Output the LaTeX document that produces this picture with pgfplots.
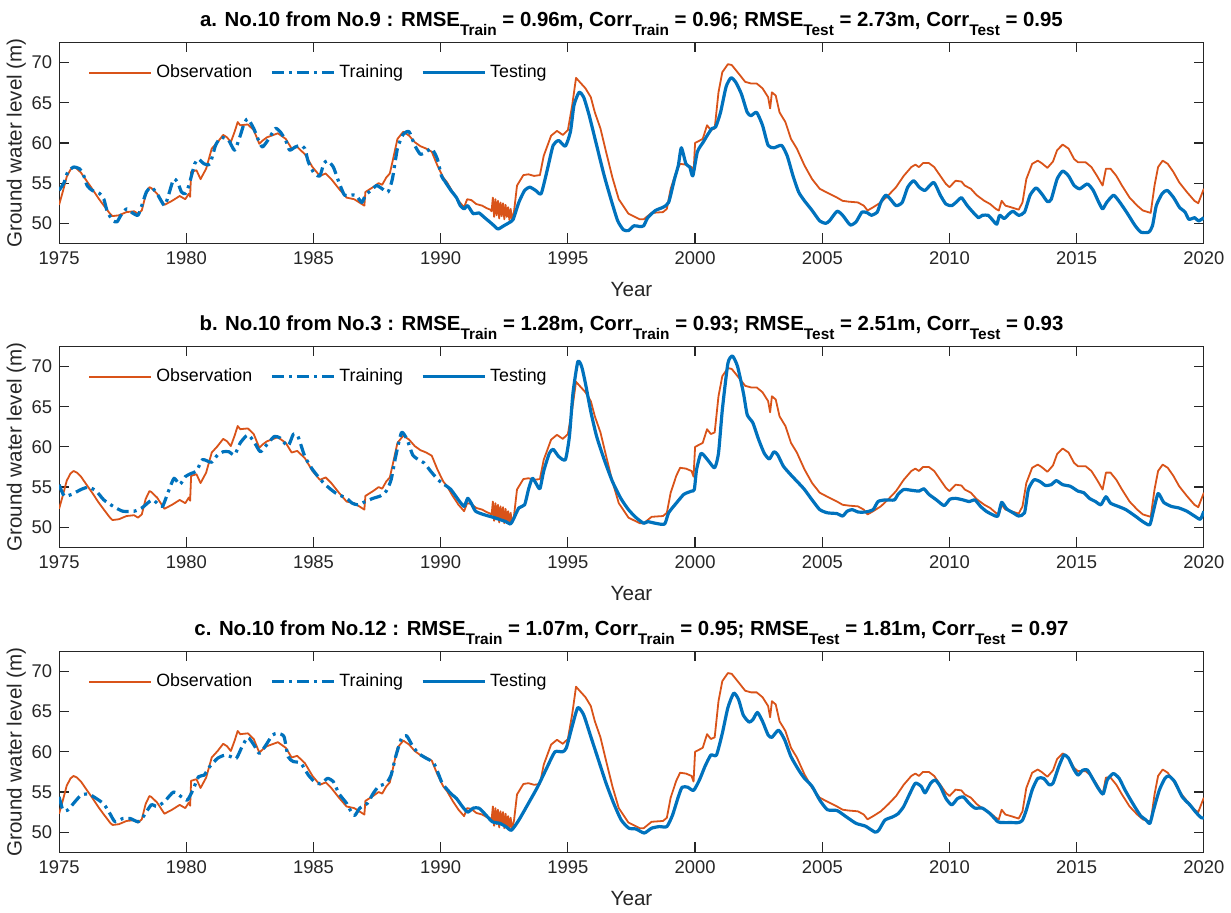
\documentclass[border=0pt]{standalone}
\usepackage{fontspec}
\setmainfont{Liberation Sans}
\usepackage{pgfplots}
\pgfplotsset{compat=1.18}
\usepackage{pgfplotstable}
\definecolor{mOrange}{rgb}{0.85,0.325,0.098}
\definecolor{mBlue}{rgb}{0,0.447,0.741}
\definecolor{axgray}{rgb}{0.15,0.15,0.15}
\newcommand{\sub}[1]{\raisebox{-4.3pt}{\fontsize{7.7}{9}\selectfont\bfseries #1}}

\pgfplotstableread{
x y
1975.0 52.3
1975.15 54.0
1975.3 55.8
1975.45 56.7
1975.57 57.0
1975.7 56.8
1975.86 56.3
1976.1 55.2
1976.3 54.3
1976.55 53.1
1976.76 52.2
1977.0 51.2
1977.1 50.9
1977.35 51.0
1977.65 51.4
1977.95 51.5
1978.1 51.2
1978.25 51.6
1978.4 53.5
1978.55 54.5
1978.62 54.4
1978.85 53.7
1979.14 52.3
1979.44 52.8
1979.74 53.4
1979.96 53.0
1980.1 53.7
1980.15 53.3
1980.19 56.4
1980.4 56.6
1980.56 55.5
1980.78 56.8
1981.0 59.3
1981.23 60.1
1981.45 61.0
1981.6 60.7
1981.75 60.1
1981.9 61.4
1982.02 62.6
1982.12 62.2
1982.42 62.3
1982.65 61.6
1982.87 59.9
1983.0 60.3
1983.17 60.7
1983.6 61.2
1983.91 60.5
1984.14 59.3
1984.36 59.5
1984.66 58.6
1984.96 57.0
1985.25 55.9
1985.48 56.2
1985.7 55.5
1986.0 54.3
1986.3 53.2
1986.6 53.0
1986.9 52.4
1987.0 52.2
1987.04 53.9
1987.34 54.5
1987.56 55.0
1987.7 54.8
1987.86 55.7
1988.0 56.2
1988.1 57.6
1988.3 60.5
1988.53 61.4
1988.76 60.9
1988.98 60.1
1989.2 59.6
1989.43 59.3
1989.65 58.9
1989.87 57.2
1990.1 55.7
1990.25 55.1
1990.47 53.9
1990.7 52.8
1990.92 52.0
1991.04 53.0
1991.2 52.9
1991.4 52.4
1991.63 52.2
1991.8 51.9
1991.95 51.7
1992.0 51.5
1992.05 53.2
1992.1 50.8
1992.15 53.0
1992.2 51.0
1992.25 52.8
1992.3 50.6
1992.35 52.6
1992.4 50.9
1992.45 52.5
1992.5 50.5
1992.55 52.3
1992.6 50.8
1992.65 52.0
1992.7 50.4
1992.75 51.8
1992.8 50.5
1992.88 51.4
1993.0 54.7
1993.25 56.0
1993.45 56.1
1993.67 55.9
1993.9 56.0
1994.05 58.4
1994.34 60.9
1994.57 61.5
1994.8 61.0
1995.0 61.6
1995.17 64.7
1995.32 68.1
1995.46 67.6
1995.69 66.8
1995.9 65.7
1996.06 63.8
1996.28 61.8
1996.5 58.9
1996.75 55.7
1997.0 53.0
1997.38 51.2
1997.83 50.5
1997.98 50.5
1998.29 51.3
1998.74 51.4
1998.89 51.8
1999.04 54.3
1999.26 56.4
1999.41 57.4
1999.64 57.3
1999.86 57.0
1999.94 56.3
2000.0 60.0
2000.3 60.5
2000.47 62.2
2000.62 61.6
2000.77 61.8
2000.92 66.3
2001.07 68.8
2001.29 69.8
2001.44 69.7
2001.67 68.8
2001.97 67.6
2002.2 67.4
2002.42 67.4
2002.65 66.8
2002.87 65.7
2002.95 64.3
2003.02 66.3
2003.17 65.9
2003.32 63.8
2003.55 62.6
2003.77 60.5
2004.0 59.3
2004.3 57.2
2004.6 55.5
2004.9 54.3
2005.2 53.8
2005.58 53.2
2005.8 52.8
2006.03 52.7
2006.4 52.6
2006.63 52.2
2006.78 51.6
2007.0 52.0
2007.3 52.6
2007.6 53.5
2007.9 54.5
2008.2 55.9
2008.5 57.0
2008.66 57.3
2008.8 57.0
2008.96 57.5
2009.19 57.5
2009.4 57.0
2009.64 55.9
2009.86 54.9
2010.0 54.5
2010.24 55.3
2010.47 55.2
2010.6 54.7
2010.84 54.3
2011.07 53.5
2011.37 52.8
2011.6 52.4
2011.82 51.8
2011.94 51.6
2012.05 52.8
2012.2 52.2
2012.42 52.0
2012.72 51.7
2012.87 52.6
2013.02 55.5
2013.25 57.4
2013.47 57.8
2013.62 57.5
2013.85 56.9
2014.07 57.7
2014.23 59.1
2014.45 59.8
2014.68 59.3
2014.9 58.0
2015.05 57.6
2015.35 57.6
2015.58 57.0
2015.8 55.9
2016.02 54.7
2016.15 56.8
2016.33 56.8
2016.56 55.9
2016.78 54.7
2017.08 53.2
2017.38 52.2
2017.6 51.6
2017.91 51.3
2018.06 54.7
2018.2 57.0
2018.38 57.8
2018.58 57.4
2018.8 56.4
2019.03 55.1
2019.33 53.9
2019.63 52.8
2019.78 52.5
2019.9 53.5
2020.0 54.3
}\obs

\pgfplotstableread{
x y
1975.0 54.1
1975.2 55.1
1975.34 56.4
1975.57 57.0
1975.8 56.8
1975.94 56.2
1976.1 54.7
1976.3 54.1
1976.6 53.7
1976.76 53.0
1976.9 51.4
1977.13 50.3
1977.28 50.2
1977.43 51.0
1977.65 51.8
1977.88 51.3
1978.1 51.0
1978.25 52.2
1978.43 53.9
1978.62 54.5
1978.85 53.7
1979.14 52.2
1979.3 53.5
1979.5 55.5
1979.66 55.1
1979.81 53.9
1979.96 53.7
1980.1 54.7
1980.33 57.4
1980.48 58.0
1980.7 57.4
1980.93 57.4
1981.15 59.7
1981.37 60.7
1981.67 60.3
1981.9 59.1
1982.12 60.9
1982.27 62.4
1982.42 63.0
1982.65 61.8
1982.87 60.1
1983.0 59.5
1983.24 60.5
1983.5 61.8
1983.69 61.4
1983.91 60.3
1984.06 59.1
1984.28 59.5
1984.5 59.7
1984.66 59.3
1984.8 57.6
1985.03 56.2
1985.25 55.9
1985.4 57.4
1985.55 57.8
1985.78 57.0
1986.0 55.1
1986.22 53.5
1986.45 53.5
1986.67 53.5
1986.9 52.6
1987.04 53.5
1987.26 54.1
1987.48 54.7
1987.7 54.3
1987.93 53.9
1988.1 55.5
1988.3 59.3
1988.53 61.1
1988.76 61.4
1988.98 59.7
1989.2 58.6
1989.43 58.9
1989.65 59.3
1989.87 58.0
1990.03 55.9
1990.15 55.3
}\trainA

\pgfplotstableread{
x y
1990.15 55.3
1990.4 54.1
1990.62 53.2
1990.77 52.2
1990.92 51.8
1991.06 52.2
1991.28 51.2
1991.5 51.3
1991.73 50.7
1992.03 49.9
1992.25 49.3
1992.48 49.7
1992.7 50.1
1992.85 50.5
1993.07 52.6
1993.3 54.1
1993.5 54.5
1993.73 54.1
1993.95 53.7
1994.2 56.8
1994.42 59.7
1994.64 60.3
1994.9 59.6
1995.1 61.4
1995.24 64.7
1995.44 66.3
1995.62 65.7
1995.84 63.4
1996.13 59.7
1996.43 55.9
1996.73 52.6
1996.96 50.3
1997.18 49.2
1997.38 49.1
1997.6 49.7
1997.83 49.6
1997.98 49.7
1998.14 50.7
1998.44 51.6
1998.74 52.0
1998.96 52.6
1999.19 55.5
1999.34 57.2
1999.46 59.4
1999.64 57.4
1999.79 57.0
1999.91 55.9
2000.09 58.9
2000.32 60.1
2000.47 60.9
2000.66 61.8
2000.81 62.0
2001.0 63.8
2001.22 67.0
2001.41 68.1
2001.59 67.6
2001.82 66.1
2002.05 63.8
2002.2 63.4
2002.42 63.8
2002.65 62.2
2002.87 59.7
2003.1 59.4
2003.4 59.7
2003.62 58.4
2003.85 55.9
2004.07 53.9
2004.3 52.8
2004.6 51.6
2004.9 50.3
2005.13 50.0
2005.28 50.3
2005.58 51.5
2005.8 51.0
2006.1 49.8
2006.33 50.2
2006.56 51.4
2006.78 51.3
2006.93 51.0
2007.16 51.4
2007.3 52.6
2007.49 53.5
2007.68 53.0
2007.9 52.2
2008.14 52.6
2008.36 54.5
2008.59 55.3
2008.81 54.5
2009.04 54.1
2009.38 55.1
2009.64 53.5
2009.86 52.4
2010.09 52.2
2010.32 52.8
2010.47 53.2
2010.7 52.2
2010.92 51.4
2011.14 50.7
2011.29 51.0
2011.52 51.0
2011.67 50.5
2011.86 49.9
2011.97 51.0
2012.15 50.6
2012.35 51.2
2012.5 51.5
2012.72 51.0
2012.95 51.4
2013.17 53.5
2013.4 54.4
2013.62 53.7
2013.85 52.7
2014.0 53.0
2014.23 55.5
2014.45 56.5
2014.68 55.9
2014.9 54.7
2015.12 54.3
2015.42 54.9
2015.65 54.1
2015.87 52.6
2016.02 51.8
2016.18 52.6
2016.45 53.5
2016.7 52.6
2017.0 51.2
2017.3 49.7
2017.53 48.9
2017.83 48.9
2017.98 49.7
2018.13 52.2
2018.36 53.7
2018.56 54.1
2018.81 53.2
2019.04 52.0
2019.26 51.4
2019.41 50.5
2019.64 50.7
2019.79 50.3
2020.0 50.7
}\testA

\pgfplotstableread{
x y
1975.0 55.3
1975.2 53.9
1975.5 54.1
1975.86 54.7
1976.16 55.0
1976.46 54.5
1976.76 53.4
1977.13 52.6
1977.5 52.0
1977.95 52.0
1978.25 52.4
1978.55 53.2
1978.7 53.4
1978.92 52.8
1979.07 52.6
1979.3 54.5
1979.52 56.1
1979.74 55.3
1979.96 56.3
1980.19 56.7
1980.4 57.0
1980.63 58.4
1980.86 58.2
1981.0 58.1
1981.23 59.0
1981.45 59.4
1981.67 59.4
1981.9 59.0
1982.12 60.5
1982.42 61.5
1982.65 60.7
1982.91 59.4
1983.17 60.3
1983.46 61.3
1983.69 61.1
1984.0 60.1
1984.21 61.6
1984.39 61.3
1984.66 58.8
1984.96 57.2
1985.4 55.5
1985.85 54.3
1986.3 53.6
1986.52 53.0
1986.74 52.8
1987.04 53.2
1987.34 53.6
1987.63 53.9
1987.86 54.5
1988.05 55.9
1988.23 58.8
1988.46 61.8
1988.68 60.9
1988.9 59.0
1989.13 58.4
1989.35 58.0
1989.6 57.0
1989.9 55.9
1990.15 55.3
}\trainB

\pgfplotstableread{
x y
1990.15 55.3
1990.4 54.7
1990.7 53.4
1990.92 52.6
1991.06 53.6
1991.2 53.0
1991.37 52.0
1991.67 51.6
1992.1 51.2
1992.56 50.7
1992.74 50.4
1992.86 51.0
1993.07 52.4
1993.3 52.8
1993.45 54.7
1993.6 56.1
1993.74 55.5
1993.9 54.8
1994.05 57.0
1994.27 59.2
1994.42 59.7
1994.64 58.8
1994.9 58.4
1995.06 61.3
1995.2 66.7
1995.39 70.6
1995.54 70.0
1995.69 67.9
1995.9 64.4
1996.13 61.3
1996.43 58.4
1996.75 55.7
1997.08 53.6
1997.38 52.2
1997.68 51.2
1997.98 50.5
1998.14 50.7
1998.44 50.5
1998.8 50.4
1998.96 51.8
1999.26 53.0
1999.56 54.1
1999.86 54.5
1999.97 54.7
2000.06 57.2
2000.24 59.2
2000.54 58.2
2000.77 57.4
2000.92 59.2
2001.07 64.6
2001.29 70.4
2001.47 71.3
2001.67 70.0
2001.9 66.7
2002.05 64.0
2002.27 63.0
2002.5 60.9
2002.72 59.2
2002.92 58.5
2003.1 59.4
2003.25 59.0
2003.47 57.6
2003.77 56.5
2004.07 55.5
2004.3 54.7
2004.6 53.4
2004.9 52.2
2005.2 51.8
2005.58 51.7
2005.8 51.4
2005.98 52.0
2006.18 52.2
2006.4 51.9
2006.7 51.9
2007.0 52.2
2007.19 53.2
2007.46 53.4
2007.83 53.4
2007.98 54.1
2008.2 54.7
2008.51 54.6
2008.81 54.5
2008.99 54.8
2009.19 54.1
2009.49 53.4
2009.79 52.7
2010.02 53.5
2010.24 53.6
2010.54 53.4
2010.77 53.2
2011.0 53.4
2011.22 52.6
2011.44 52.0
2011.67 51.6
2011.9 51.4
2012.05 53.1
2012.24 52.3
2012.5 51.8
2012.72 51.4
2012.95 51.8
2013.1 54.7
2013.32 55.9
2013.55 55.7
2013.77 55.2
2014.0 55.3
2014.2 55.8
2014.45 55.3
2014.75 55.1
2015.05 54.5
2015.28 54.3
2015.5 53.6
2015.74 53.2
2015.95 52.8
2016.15 53.8
2016.33 53.0
2016.63 52.6
2016.93 52.2
2017.3 51.4
2017.6 50.7
2017.87 50.3
2018.0 51.8
2018.2 54.2
2018.42 53.1
2018.72 52.6
2019.02 52.4
2019.33 52.0
2019.63 51.4
2019.86 51.0
2020.0 52.0
}\testB

\pgfplotstableread{
x y
1975.0 54.4
1975.15 52.75
1975.34 52.75
1975.57 53.6
1975.86 54.6
1976.16 54.75
1976.46 54.2
1976.76 53.5
1977.0 52.3
1977.2 51.3
1977.5 51.7
1977.8 51.7
1978.1 51.3
1978.3 51.9
1978.62 53.4
1978.85 53.2
1979.14 53.8
1979.5 55.0
1979.81 54.4
1980.04 54.0
1980.26 55.25
1980.48 56.9
1980.7 57.1
1980.93 58.2
1981.23 59.2
1981.52 59.6
1981.75 59.4
1981.97 59.2
1982.2 60.7
1982.42 61.8
1982.65 60.9
1982.87 59.8
1983.1 60.7
1983.39 62.1
1983.6 62.3
1983.84 61.9
1984.0 59.4
1984.2 58.8
1984.5 58.6
1984.8 57.1
1985.1 56.1
1985.33 56.1
1985.55 56.7
1985.78 56.3
1986.0 54.8
1986.3 53.6
1986.52 52.3
1986.63 52.1
1986.82 53.0
1987.12 53.6
1987.34 54.8
1987.56 55.7
1987.86 56.1
1988.05 57.1
1988.23 59.4
1988.46 61.7
1988.66 62.0
1988.9 60.7
1989.13 59.8
1989.43 59.2
1989.73 58.6
1990.03 56.3
1990.15 55.7
}\trainC

\pgfplotstableread{
x y
1990.15 55.7
1990.4 54.8
1990.62 54.2
1990.85 53.2
1991.06 52.5
1991.28 53.0
1991.5 53.0
1991.73 52.3
1992.03 51.3
1992.33 51.1
1992.56 50.7
1992.78 50.25
1993.07 51.5
1993.45 53.6
1993.82 55.7
1994.2 58.2
1994.49 60.0
1994.79 60.0
1994.94 60.5
1995.17 63.2
1995.39 65.5
1995.62 64.6
1995.9 61.9
1996.2 59.0
1996.5 56.1
1996.8 53.6
1997.1 51.5
1997.4 50.5
1997.68 50.4
1998.0 49.9
1998.29 50.5
1998.59 50.7
1998.89 50.7
1999.11 52.1
1999.34 54.4
1999.49 55.6
1999.71 55.6
1999.94 55.2
2000.17 56.5
2000.39 58.2
2000.62 59.6
2000.84 59.6
2001.07 62.3
2001.29 65.5
2001.52 67.3
2001.71 66.5
2001.89 64.6
2002.12 63.7
2002.27 64.0
2002.45 64.9
2002.65 63.8
2002.87 62.1
2003.02 61.8
2003.28 62.7
2003.52 61.5
2003.77 59.4
2004.07 57.75
2004.3 56.7
2004.6 55.7
2004.9 54.0
2005.2 52.8
2005.58 52.7
2005.95 51.9
2006.33 51.1
2006.7 50.75
2007.08 50.0
2007.23 50.3
2007.46 51.5
2007.76 51.9
2007.98 52.3
2008.2 53.2
2008.44 54.8
2008.66 56.1
2008.89 55.7
2009.04 54.9
2009.26 56.1
2009.44 56.5
2009.64 55.7
2009.86 54.2
2010.09 53.4
2010.32 54.2
2010.54 54.4
2010.77 53.6
2011.0 53.0
2011.29 53.0
2011.6 52.3
2011.9 51.3
2012.12 51.2
2012.42 51.2
2012.72 51.2
2012.87 51.5
2013.02 52.75
2013.25 55.25
2013.47 56.7
2013.7 56.7
2013.92 55.9
2014.07 56.1
2014.3 58.2
2014.5 59.6
2014.68 59.2
2014.86 58.0
2015.05 57.1
2015.23 57.7
2015.42 57.75
2015.62 56.7
2015.84 55.5
2016.04 54.75
2016.2 56.5
2016.44 57.3
2016.67 56.7
2016.9 55.25
2017.2 53.6
2017.5 52.1
2017.73 51.5
2017.88 51.1
2018.02 52.75
2018.25 55.25
2018.47 56.7
2018.62 57.0
2018.85 56.3
2019.15 54.4
2019.45 53.4
2019.68 52.5
2019.9 51.8
2020.0 51.8
}\testC

\pgfplotsset{
  gw/.style={
    width=572.5pt, height=100.5pt, scale only axis,
    xmin=1975, xmax=2020, ymin=47.5, ymax=72.5,
    xtick={1975,1980,...,2020}, ytick={50,55,...,70},
    xticklabel style={/pgf/number format/1000 sep={}, yshift=-0.8pt},
    /pgf/number format/assume math mode=true,
    tick label style={font=\fontsize{9.2}{10}\selectfont, text=axgray},
    label style={font=\fontsize{10.3}{12}\selectfont, text=axgray},
    xlabel style={yshift=-1.7pt},
    ylabel shift=-4pt,
    title style={font=\bfseries\fontsize{10.2}{12}\selectfont, text=black, yshift=-6pt, text height=10pt},
    axis line style={axgray, line width=0.6pt},
    every tick/.style={axgray, line width=0.6pt},
    major tick length=5pt,
    tick align=inside,
    xlabel={Year}, ylabel={Ground water level (m)},
    legend style={draw=none, fill=none, at={(0,1)}, anchor=north west,
      xshift=11.5pt, yshift=-7pt, font=\fontsize{8.9}{10}\selectfont,
      legend columns=3, /tikz/every even column/.append style={column sep=7pt}},
    legend cell align=left,
    legend image code/.code={\draw[#1] (0pt,0pt) -- (31pt,0pt);},
  },
  obsst/.style={mOrange, line width=0.9pt, line join=round},
  trst/.style={mBlue, line width=1.6pt, smooth, tension=0.35, line join=round, dash pattern=on 6pt off 2.5pt on 1.5pt off 2.5pt},
  tsst/.style={mBlue, line width=1.6pt, smooth, tension=0.35, line join=round},
}

\begin{document}
\begin{tikzpicture}
\begin{axis}[gw, at={(0,0)}, anchor=north west,
  title={a. No.10 from No.9 : RMSE\sub{Train} = 0.96m, Corr\sub{Train} = 0.96; RMSE\sub{Test} = 2.73m, Corr\sub{Test} = 0.95}]
\addplot[obsst] table {\obs};
\addplot[trst] table {\trainA};
\addplot[tsst] table {\testA};
\legend{Observation,Training,Testing}
\end{axis}
\begin{axis}[gw, at={(0,-152pt)}, anchor=north west,
  title={b. No.10 from No.3 : RMSE\sub{Train} = 1.28m, Corr\sub{Train} = 0.93; RMSE\sub{Test} = 2.51m, Corr\sub{Test} = 0.93}]
\addplot[obsst] table {\obs};
\addplot[trst] table {\trainB};
\addplot[tsst] table {\testB};
\legend{Observation,Training,Testing}
\end{axis}
\begin{axis}[gw, at={(0,-304.5pt)}, anchor=north west,
  title={c. No.10 from No.12 : RMSE\sub{Train} = 1.07m, Corr\sub{Train} = 0.95; RMSE\sub{Test} = 1.81m, Corr\sub{Test} = 0.97}]
\addplot[obsst] table {\obs};
\addplot[trst] table {\trainC};
\addplot[tsst] table {\testC};
\legend{Observation,Training,Testing}
\end{axis}
\end{tikzpicture}
\end{document}
